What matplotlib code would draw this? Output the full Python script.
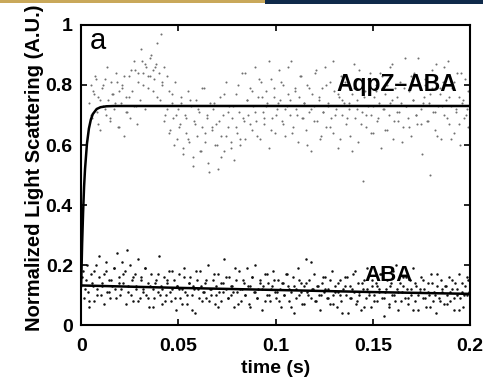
import matplotlib
matplotlib.use("Agg")
import matplotlib.pyplot as plt
import numpy as np
from matplotlib.patches import Rectangle

plt.rcParams['font.family'] = ['Liberation Sans', 'DejaVu Sans']

aqpz_t = np.linspace(0.004, 0.2, 240)
aqpz_y = [
    0.74, 0.80, 0.69, 0.77, 0.83, 0.71, 0.76, 0.65, 0.79, 0.73, 0.82, 0.70, 0.75, 0.68, 0.81, 0.77, 0.72, 0.84, 0.66, 0.78,
    0.74, 0.80, 0.63, 0.76, 0.71, 0.83, 0.69, 0.78, 0.73, 0.85, 0.67, 0.81, 0.75, 0.88, 0.84, 0.72, 0.86, 0.79, 0.83, 0.90,
    0.85, 0.82, 0.87, 0.76, 0.84, 0.97, 0.80, 0.86, 0.70, 0.83, 0.78, 0.65, 0.74, 0.69, 0.81, 0.62, 0.72, 0.67, 0.76, 0.59,
    0.70, 0.64, 0.78, 0.61, 0.73, 0.56, 0.68, 0.75, 0.63, 0.71, 0.58, 0.66, 0.79, 0.61, 0.69, 0.54, 0.74, 0.65, 0.72, 0.60,
    0.67, 0.52, 0.76, 0.63, 0.70, 0.58, 0.81, 0.66, 0.73, 0.61, 0.69, 0.55, 0.77, 0.64, 0.71, 0.60, 0.84, 0.68, 0.62, 0.75,
    0.70, 0.79, 0.65, 0.73, 0.86, 0.68, 0.76, 0.62, 0.81, 0.71, 0.67, 0.78, 0.74, 0.59, 0.82, 0.69, 0.76, 0.64, 0.72, 0.85,
    0.75, 0.68, 0.80, 0.63, 0.73, 0.77, 0.70, 0.88, 0.66, 0.79, 0.72, 0.61, 0.76, 0.83, 0.69, 0.74, 0.65, 0.80, 0.71, 0.58,
    0.77, 0.73, 0.84, 0.68, 0.75, 0.62, 0.79, 0.71, 0.86, 0.66, 0.74, 0.81, 0.69, 0.64, 0.78, 0.72, 0.59, 0.76, 0.83, 0.70,
    0.74, 0.67, 0.80, 0.72, 0.63, 0.77, 0.87, 0.69, 0.75, 0.61, 0.82, 0.71, 0.48, 0.78, 0.66, 0.73, 0.84, 0.70, 0.64, 0.76,
    0.80, 0.68, 0.74, 0.59, 0.83, 0.72, 0.77, 0.65, 0.70, 0.86, 0.75, 0.62, 0.79, 0.71, 0.68, 0.81, 0.74, 0.66, 0.89, 0.73,
    0.69, 0.78, 0.63, 0.75, 0.84, 0.70, 0.67, 0.80, 0.72, 0.57, 0.76, 0.82, 0.68, 0.74, 0.50, 0.79, 0.71, 0.65, 0.87, 0.73,
    0.77, 0.62, 0.81, 0.70, 0.75, 0.88, 0.67, 0.73, 0.79, 0.64, 0.71, 0.84, 0.76, 0.60, 0.74, 0.69, 0.82, 0.72, 0.66, 0.78,
]
aqpz_t2 = np.linspace(0.005, 0.199, 160)
aqpz_y2 = [
    0.70, 0.78, 0.82, 0.67, 0.75, 0.80, 0.72, 0.86, 0.69, 0.77, 0.74, 0.81, 0.66, 0.79, 0.83, 0.71, 0.76, 0.85, 0.88, 0.73,
    0.84, 0.92, 0.80, 0.87, 0.83, 0.89, 0.78, 0.86, 0.94, 0.75, 0.81, 0.68, 0.72, 0.64, 0.77, 0.60, 0.70, 0.66, 0.74, 0.57,
    0.69, 0.62, 0.75, 0.53, 0.67, 0.72, 0.58, 0.79, 0.64, 0.70, 0.51, 0.66, 0.74, 0.60, 0.68, 0.56, 0.77, 0.63, 0.71, 0.59,
    0.73, 0.66, 0.80, 0.62, 0.69, 0.84, 0.75, 0.67, 0.78, 0.71, 0.63, 0.82, 0.76, 0.69, 0.73, 0.88, 0.65, 0.79, 0.70, 0.74,
    0.81, 0.67, 0.72, 0.86, 0.75, 0.64, 0.78, 0.70, 0.83, 0.69, 0.74, 0.60, 0.79, 0.72, 0.68, 0.85, 0.76, 0.63, 0.71, 0.80,
    0.73, 0.66, 0.88, 0.70, 0.77, 0.62, 0.75, 0.81, 0.69, 0.74, 0.58, 0.79, 0.72, 0.85, 0.67, 0.76, 0.70, 0.82, 0.64, 0.73,
    0.78, 0.69, 0.84, 0.72, 0.65, 0.80, 0.74, 0.87, 0.68, 0.76, 0.71, 0.61, 0.79, 0.73, 0.66, 0.83, 0.75, 0.70, 0.89, 0.67,
    0.74, 0.80, 0.68, 0.77, 0.85, 0.71, 0.63, 0.79, 0.73, 0.86, 0.69, 0.76, 0.62, 0.81, 0.72, 0.67, 0.84, 0.75, 0.70, 0.78,
]

aba_t = np.linspace(0.0, 0.2, 240)
aba_y = [
    0.22, 0.18, 0.09, 0.15, 0.11, 0.06, 0.17, 0.13, 0.08, 0.20, 0.12, 0.16, 0.10, 0.14, 0.07, 0.18, 0.11, 0.15, 0.09, 0.13,
    0.19, 0.12, 0.24, 0.16, 0.10, 0.21, 0.14, 0.18, 0.25, 0.11, 0.20, 0.15, 0.08, 0.17, 0.13, 0.22, 0.09, 0.16, 0.12, 0.19,
    0.10, 0.14, 0.06, 0.17, 0.12, 0.09, 0.15, 0.11, 0.23, 0.13, 0.07, 0.16, 0.10, 0.14, 0.18, 0.08, 0.12, 0.15, 0.05, 0.13,
    0.17, 0.09, 0.12, 0.19, 0.11, 0.07, 0.14, 0.16, 0.10, 0.13, 0.04, 0.15, 0.12, 0.18, 0.08, 0.11, 0.14, 0.09, 0.20, 0.12,
    0.10, 0.15, 0.07, 0.13, 0.17, 0.11, 0.08, 0.14, 0.22, 0.12, 0.09, 0.16, 0.10, 0.13, 0.06, 0.15, 0.11, 0.18, 0.08, 0.12,
    0.14, 0.10, 0.19, 0.07, 0.13, 0.16, 0.11, 0.20, 0.09, 0.12, 0.15, 0.05, 0.13, 0.17, 0.10, 0.14, 0.08, 0.12, 0.18, 0.11,
    0.09, 0.15, 0.12, 0.06, 0.14, 0.10, 0.17, 0.13, 0.08, 0.11, 0.16, 0.04, 0.12, 0.19, 0.10, 0.14, 0.07, 0.13, 0.22, 0.11,
    0.15, 0.09, 0.12, 0.17, 0.08, 0.13, 0.10, 0.05, 0.14, 0.11, 0.16, 0.09, 0.12, 0.07, 0.18, 0.10, 0.13, 0.06, 0.11, 0.15,
    0.08, 0.12, 0.16, 0.10, 0.04, 0.13, 0.09, 0.17, 0.11, 0.07, 0.14, 0.10, 0.05, 0.12, 0.15, 0.09, 0.19, 0.11, 0.06, 0.13,
    0.10, 0.14, 0.08, 0.12, 0.17, 0.09, 0.03, 0.11, 0.15, 0.07, 0.13, 0.10, 0.18, 0.08, 0.12, 0.05, 0.14, 0.11, 0.16, 0.09,
    0.12, 0.07, 0.15, 0.10, 0.19, 0.08, 0.13, 0.05, 0.11, 0.16, 0.09, 0.12, 0.06, 0.14, 0.10, 0.17, 0.08, 0.11, 0.04, 0.13,
    0.09, 0.15, 0.11, 0.07, 0.13, 0.10, 0.16, 0.08, 0.12, 0.05, 0.14, 0.10, 0.17, 0.09, 0.11, 0.06, 0.13, 0.10, 0.15, 0.08,
]
aba_t2 = np.linspace(0.0005, 0.1995, 160)
aba_y2 = [
    0.16, 0.12, 0.20, 0.08, 0.14, 0.18, 0.10, 0.23, 0.13, 0.17, 0.21, 0.11, 0.15, 0.19, 0.09, 0.14, 0.12, 0.17, 0.07, 0.13,
    0.10, 0.16, 0.12, 0.08, 0.15, 0.11, 0.19, 0.09, 0.13, 0.06, 0.14, 0.17, 0.10, 0.12, 0.08, 0.15, 0.11, 0.18, 0.09, 0.13,
    0.12, 0.07, 0.16, 0.10, 0.14, 0.05, 0.12, 0.18, 0.09, 0.13, 0.11, 0.15, 0.08, 0.12, 0.17, 0.10, 0.06, 0.14, 0.11, 0.16,
    0.09, 0.13, 0.11, 0.19, 0.07, 0.12, 0.15, 0.10, 0.13, 0.06, 0.16, 0.11, 0.09, 0.14, 0.12, 0.08, 0.17, 0.10, 0.13, 0.15,
    0.11, 0.08, 0.14, 0.10, 0.17, 0.12, 0.06, 0.13, 0.09, 0.15, 0.11, 0.07, 0.14, 0.10, 0.21, 0.12, 0.08, 0.13, 0.10, 0.16,
    0.12, 0.09, 0.15, 0.07, 0.11, 0.14, 0.10, 0.04, 0.13, 0.16, 0.09, 0.12, 0.18, 0.08, 0.11, 0.14, 0.06, 0.12, 0.10, 0.15,
    0.08, 0.13, 0.11, 0.17, 0.09, 0.12, 0.06, 0.14, 0.10, 0.20, 0.11, 0.08, 0.13, 0.16, 0.09, 0.12, 0.05, 0.14, 0.10, 0.12,
    0.15, 0.09, 0.11, 0.06, 0.14, 0.10, 0.17, 0.08, 0.12, 0.13, 0.07, 0.11, 0.15, 0.09, 0.12, 0.05, 0.14, 0.10, 0.16, 0.11,
]

# fitted curves, points
fit_aqpz_t = [0, 0.0005, 0.001, 0.0015, 0.002, 0.003, 0.004, 0.005, 0.006, 0.008, 0.010, 0.013, 0.017, 0.2]
fit_aqpz_y = [0.13, 0.27, 0.375, 0.46, 0.52, 0.605, 0.655, 0.685, 0.703, 0.72, 0.726, 0.729, 0.73, 0.73]
fit_aba_t = [0, 0.05, 0.1, 0.15, 0.2]
fit_aba_y = [0.132, 0.124, 0.117, 0.110, 0.104]

fig = plt.figure(figsize=(4.83, 3.78), dpi=100)
ax = fig.add_axes([0.168, 0.140, 0.805, 0.794])

ax.scatter(aqpz_t, aqpz_y, s=2.2, c='#707070', linewidths=0)
ax.scatter(aqpz_t2, aqpz_y2, s=2.2, c='#707070', linewidths=0)
ax.scatter(aba_t, aba_y, s=3.2, c='#111111', linewidths=0)
ax.scatter(aba_t2, aba_y2, s=3.2, c='#111111', linewidths=0)
ax.plot(fit_aqpz_t, fit_aqpz_y, color='black', lw=1.8)
ax.plot(fit_aba_t, fit_aba_y, color='black', lw=1.8)

ax.set_xlim(0, 0.2)
ax.set_ylim(0, 1)
ax.set_xticks([0, 0.05, 0.1, 0.15, 0.2])
ax.set_xticklabels(['0', '0.05', '0.1', '0.15', '0.2'])
ax.set_yticks([0, 0.2, 0.4, 0.6, 0.8, 1])
ax.set_yticklabels(['0', '0.2', '0.4', '0.6', '0.8', '1'])
ax.tick_params(direction='in', top=True, right=True, length=4, width=1.2,
               labelsize=14)
ax.tick_params(axis='x', pad=9)
ax.tick_params(axis='y', pad=6)
for lab in ax.get_xticklabels() + ax.get_yticklabels():
    lab.set_fontweight('bold')
for sp in ax.spines.values():
    sp.set_linewidth(1.5)

ax.set_xlabel('time (s)', fontsize=14, fontweight='bold', labelpad=4)
ax.set_ylabel('Normalized Light Scattering (A.U.)', fontsize=14.5, fontweight='bold')
ax.yaxis.set_label_coords(-0.095, 0.525)

ax.text(0.0045, 0.945, 'a', fontsize=21, ha='left', va='center')
ax.text(0.1625, 0.80, 'AqpZ\u2013ABA', fontsize=16.5, fontweight='bold', ha='center', va='center')
ax.text(0.158, 0.165, 'ABA', fontsize=16, fontweight='bold', ha='center', va='center')

# thin banner strip at the very top of the image
fig.add_artist(Rectangle((0, 0.993), 0.549, 0.007, transform=fig.transFigure, color='#c9a85a', lw=0))
fig.add_artist(Rectangle((0.549, 0.990), 0.451, 0.010, transform=fig.transFigure, color='#0f2a4a', lw=0))

fig.savefig('out.png', dpi=100)
